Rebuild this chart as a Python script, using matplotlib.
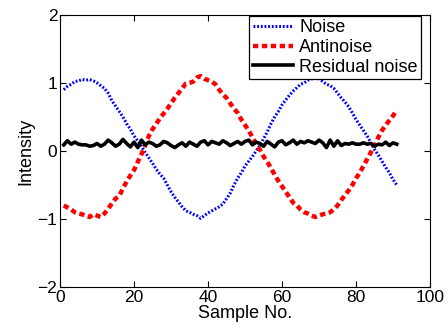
import numpy as np
import matplotlib
matplotlib.use('Agg')
import matplotlib.pyplot as plt

plt.rcParams['font.family'] = ['Liberation Sans', 'DejaVu Sans']

# Sample index
samples = list(range(1, 92))

# Noise signal (blue dotted)
noise = [0.90, 0.95, 0.98, 1.02, 1.03, 1.05, 1.04, 1.05, 1.03, 1.00,
         0.96, 0.92, 0.85, 0.74, 0.66, 0.58, 0.50, 0.40, 0.32, 0.22,
         0.15, 0.07, -0.02, -0.10, -0.18, -0.27, -0.34, -0.40, -0.50, -0.60,
         -0.68, -0.75, -0.82, -0.88, -0.90, -0.93, -0.95, -0.99, -0.95, -0.91,
         -0.88, -0.85, -0.82, -0.78, -0.70, -0.62, -0.50, -0.40, -0.32, -0.22,
         -0.15, -0.08, 0.00, 0.08, 0.18, 0.28, 0.40, 0.50, 0.58, 0.68,
         0.75, 0.82, 0.88, 0.93, 0.98, 1.00, 1.04, 1.06, 1.07, 1.06,
         1.02, 0.98, 0.96, 0.92, 0.85, 0.78, 0.72, 0.65, 0.56, 0.46,
         0.38, 0.30, 0.22, 0.12, 0.02, -0.06, -0.15, -0.24, -0.32, -0.42,
         -0.50]

# Anti-noise signal (red dashed)
antinoise = [-0.80, -0.83, -0.86, -0.90, -0.92, -0.93, -0.96, -0.97, -0.93, -0.95,
             -0.97, -0.92, -0.85, -0.77, -0.70, -0.66, -0.55, -0.45, -0.36, -0.28,
             -0.16, -0.05, 0.08, 0.22, 0.32, 0.40, 0.48, 0.55, 0.62, 0.70,
             0.78, 0.85, 0.92, 0.99, 1.00, 1.02, 1.08, 1.10, 1.06, 1.04,
             1.02, 0.98, 0.90, 0.83, 0.78, 0.70, 0.62, 0.56, 0.46, 0.38,
             0.30, 0.20, 0.10, 0.02, -0.08, -0.16, -0.25, -0.35, -0.44, -0.52,
             -0.60, -0.68, -0.76, -0.80, -0.86, -0.90, -0.92, -0.95, -0.97, -0.95,
             -0.93, -0.92, -0.90, -0.86, -0.80, -0.72, -0.65, -0.58, -0.50, -0.40,
             -0.32, -0.22, -0.12, -0.02, 0.08, 0.20, 0.30, 0.38, 0.45, 0.52,
             0.60]

# Residual noise (black solid)
residual = [0.09, 0.15, 0.10, 0.13, 0.10, 0.09, 0.09, 0.07, 0.08, 0.11,
            0.07, 0.10, 0.16, 0.12, 0.07, 0.10, 0.17, 0.11, 0.06, 0.13,
            0.05, 0.16, 0.09, 0.13, 0.11, 0.07, 0.09, 0.14, 0.12, 0.08,
            0.05, 0.09, 0.12, 0.07, 0.13, 0.10, 0.07, 0.13, 0.15, 0.09,
            0.14, 0.12, 0.10, 0.15, 0.12, 0.08, 0.11, 0.14, 0.10, 0.14,
            0.16, 0.09, 0.13, 0.11, 0.07, 0.14, 0.10, 0.06, 0.13, 0.15,
            0.09, 0.12, 0.16, 0.10, 0.14, 0.12, 0.15, 0.13, 0.11, 0.16,
            0.12, 0.05, 0.16, 0.07, 0.15, 0.08, 0.11, 0.10, 0.12, 0.10,
            0.10, 0.12, 0.10, 0.11, 0.07, 0.10, 0.09, 0.13, 0.08, 0.12,
            0.10]

fig = plt.figure(figsize=(4.48, 3.30), dpi=100)
ax = fig.add_axes([0.134, 0.13, 0.826, 0.825])

ax.plot(samples, noise, color='#0000ff', linestyle=(0, (0.6, 0.6)), linewidth=2.2, label='Noise')
ax.plot(samples, antinoise, color='#ff0000', linestyle=(0, (1.2, 0.8)), linewidth=3.2, label='Antinoise')
ax.plot(samples, residual, color='black', linestyle='-', linewidth=2.6, label='Residual noise')

ax.set_xlim(0, 100)
ax.set_ylim(-2, 2)
ax.set_xticks([0, 20, 40, 60, 80, 100])
ax.set_yticks([-2, -1, 0, 1, 2])
ax.tick_params(direction='in', top=True, right=True, labelsize=12.5, length=4, pad=2)
ax.set_xlabel('Sample No.', fontsize=13, labelpad=0)
ax.set_ylabel('Intensity', fontsize=13, labelpad=2)

leg = ax.legend(loc='upper right', bbox_to_anchor=(0.976, 0.997), fontsize=13, frameon=True,
                fancybox=False, edgecolor='black', framealpha=1, borderpad=0.2,
                labelspacing=0.15, handlelength=2.2, handletextpad=0.35, borderaxespad=0)
leg.get_frame().set_linewidth(0.9)

fig.savefig('out.png', dpi=100)
